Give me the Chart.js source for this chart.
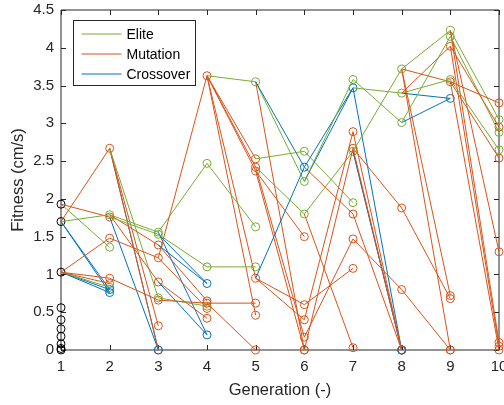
<!DOCTYPE html>
<html>
<head>
<meta charset="utf-8">
<script src="https://cdn.jsdelivr.net/npm/chart.js@4.4.1/dist/chart.umd.min.js"></script>
<style>
  body { margin: 0; background: #fff; }
  canvas { display: block; }
</style>
</head>
<body>
<canvas id="fitnessChart" width="504" height="405"></canvas>
<script>
// Fitness per generation; types: E = elite, M = mutation, C = crossover
// parents = index in the previous generation
const generations = [1, 2, 3, 4, 5, 6, 7, 8, 9, 10];

const fit1 = [1.93, 1.70, 1.03, 0.56, 0.40, 0.28, 0.18, 0.08, 0.02, 0.00];

const fit2 = [2.67, 1.79, 1.76, 1.48, 1.36, 0.95, 0.88, 0.83, 0.80, 0.76];
const type2 = ['M', 'E', 'M', 'M', 'E', 'M', 'M', 'E', 'C', 'C'];
const par2 = [[1], [1], [0], [2], [0], [2], [2], [2], [1, 2], [1, 2]];

const fit3 = [1.56, 1.53, 1.39, 1.22, 0.90, 0.69, 0.66, 0.32, 0.00, 0.00];
const type3 = ['E', 'E', 'M', 'M', 'M', 'E', 'M', 'M', 'M', 'C'];
const par3 = [[1], [2], [1], [3], [1], [0], [5], [0], [0], [0, 2]];

const fit4 = [3.63, 2.47, 1.10, 0.88, 0.65, 0.62, 0.58, 0.55, 0.42, 0.20];
const type4 = ['M', 'E', 'E', 'C', 'M', 'M', 'E', 'M', 'M', 'C'];
const par4 = [[3], [0], [1], [1, 2], [2], [6], [5], [3], [4], [0, 4]];

const fit5 = [3.55, 2.53, 2.42, 2.37, 1.63, 1.10, 0.95, 0.62, 0.46, 0.00];
const type5 = ['E', 'M', 'M', 'M', 'E', 'E', 'M', 'M', 'M', 'M'];
const par5 = [[0], [0], [0], [0], [1], [2], [0], [5], [0], [5]];

const fit6 = [2.63, 2.42, 2.23, 1.80, 1.50, 0.60, 0.40, 0.17, 0.00, 0.00];
const type6 = ['E', 'C', 'E', 'E', 'M', 'M', 'M', 'M', 'M', 'M'];
const par6 = [[1], [0, 6], [0], [2], [3], [6], [6], [2], [0], [3]];

const fit7 = [3.58, 3.47, 2.89, 2.67, 2.63, 1.95, 1.80, 1.47, 1.08, 0.03];
const type7 = ['E', 'C', 'M', 'M', 'E', 'E', 'M', 'M', 'M', 'M'];
const par7 = [[2], [1, 2], [6], [8], [3], [0], [1], [7], [5], [3]];

const fit8 = [3.72, 3.40, 3.01, 1.88, 0.80, 0.00, 0.00, 0.00, 0.00, 0.00];
const type8 = ['E', 'E', 'E', 'M', 'M', 'M', 'M', 'C', 'M', 'M'];
const par8 = [[4], [1], [0], [3], [7], [2], [3], [1, 4], [4], [6]];

const fit9 = [4.23, 4.15, 4.02, 3.58, 3.55, 3.33, 0.72, 0.68, 0.00, 0.00];
const type9 = ['E', 'E', 'M', 'E', 'M', 'C', 'M', 'M', 'M', 'M'];
const par9 = [[0], [2], [1], [1], [0], [1, 2], [0], [3], [0], [4]];

const fit10 = [3.27, 3.05, 2.95, 2.88, 2.65, 2.54, 1.30, 0.10, 0.05, 0.00];
const type10 = ['M', 'E', 'M', 'E', 'E', 'M', 'M', 'M', 'M', 'M'];
const par10 = [[4], [0], [2], [1], [3], [4], [0], [0], [2], [4]];

const yTicks = [0, 0.5, 1, 1.5, 2, 2.5, 3, 3.5, 4, 4.5];
const legendLabels = ['Elite', 'Mutation', 'Crossover'];

const fits = [fit1, fit2, fit3, fit4, fit5, fit6, fit7, fit8, fit9, fit10];
const types = [null, type2, type3, type4, type5, type6, type7, type8, type9, type10];
const parents = [null, par2, par3, par4, par5, par6, par7, par8, par9, par10];

const colors = { E: '#77AC30', M: '#D95319', C: '#0072BD' };
const axisColor = '#262626';
const family = 'Liberation Sans, Arial, sans-serif';
const tickFont = { family: family, size: 15 };
const titleFont = { family: family, size: 16.5 };

function marker(points, color) {
    return {
        type: 'scatter', data: points, showLine: false,
        pointStyle: 'circle', pointRadius: 4, pointHoverRadius: 4,
        borderColor: color, backgroundColor: 'rgba(0,0,0,0)', borderWidth: 1,
        clip: false
    };
}

let lineSets = [];
let markerPts = { C: [], E: [], M: [] };

for (let g = 1; g < generations.length; g++) {
    for (let i = 0; i < fits[g].length; i++) {
        let t = types[g][i];
        parents[g][i].forEach(p => {
            lineSets.push({
                type: 'line',
                data: [{ x: generations[g - 1], y: fits[g - 1][p] }, { x: generations[g], y: fits[g][i] }],
                borderColor: colors[t], borderWidth: 1, pointRadius: 0, fill: false,
                clip: false
            });
        });
        markerPts[t].push({ x: generations[g], y: fits[g][i] });
    }
}

// lines first, then circles (orange on top), initial population in black
let datasets = lineSets.concat([
    marker(markerPts.C, colors.C),
    marker(markerPts.E, colors.E),
    marker(markerPts.M, colors.M),
    marker(fit1.map(v => ({ x: generations[0], y: v })), '#000000')
]);

// frame with inward ticks (box on) under the data, legend on top
const framePlugin = {
    id: 'frame',
    beforeDatasetsDraw(chart) {
        const ctx = chart.ctx;
        const a = chart.chartArea;
        const xs = chart.scales.x, ys = chart.scales.y;
        ctx.save();
        ctx.strokeStyle = axisColor;
        ctx.lineWidth = 1;
        ctx.beginPath();
        ctx.rect(a.left, a.top, a.right - a.left, a.bottom - a.top);
        generations.forEach(g => {
            let px = Math.round(xs.getPixelForValue(g)) + 0.5;
            ctx.moveTo(px, a.bottom); ctx.lineTo(px, a.bottom - 5);
            ctx.moveTo(px, a.top); ctx.lineTo(px, a.top + 5);
        });
        yTicks.forEach(t => {
            let py = Math.round(ys.getPixelForValue(t)) + 0.5;
            ctx.moveTo(a.left, py); ctx.lineTo(a.left + 5, py);
            ctx.moveTo(a.right, py); ctx.lineTo(a.right - 5, py);
        });
        ctx.stroke();
        ctx.restore();
    },
    afterDraw(chart) {
        const ctx = chart.ctx;
        ctx.save();
        const lx = 73.5, ly = 20.5, lw = 122, lh = 65;
        ctx.fillStyle = '#ffffff';
        ctx.fillRect(lx, ly, lw, lh);
        ctx.strokeStyle = axisColor;
        ctx.lineWidth = 1;
        ctx.strokeRect(lx, ly, lw, lh);
        const keys = ['E', 'M', 'C'];
        ctx.font = '14px ' + family;
        ctx.textBaseline = 'middle';
        ctx.textAlign = 'left';
        legendLabels.forEach((label, k) => {
            let yy = Math.round(ly + 13 + k * 20);
            ctx.strokeStyle = colors[keys[k]];
            ctx.lineWidth = 1.2;
            ctx.beginPath();
            ctx.moveTo(lx + 8, yy); ctx.lineTo(lx + 48, yy);
            ctx.stroke();
            ctx.fillStyle = '#000000';
            ctx.fillText(label, lx + 53, yy + 1);
        });
        ctx.restore();
    }
};

new Chart(document.getElementById('fitnessChart'), {
    type: 'scatter',
    data: { datasets: datasets },
    options: {
        responsive: false,
        animation: false,
        devicePixelRatio: 1,
        layout: { padding: { left: 0, right: 5, top: 10, bottom: 0 } },
        plugins: { legend: { display: false }, tooltip: { enabled: false } },
        scales: {
            x: {
                type: 'linear', min: 1, max: 10,
                ticks: { stepSize: 1, font: tickFont, color: axisColor, padding: 8, maxRotation: 0, autoSkip: false },
                grid: { display: false, drawTicks: false },
                border: { display: false },
                title: { display: true, text: 'Generation (-)', font: titleFont, color: axisColor, padding: 5 },
                afterFit(s) { s.height = 55; s.paddingLeft = 0; s.paddingRight = 0; }
            },
            y: {
                type: 'linear', min: 0, max: 4.5,
                ticks: {
                    stepSize: 0.5, font: tickFont, color: axisColor, padding: 7, autoSkip: false,
                    callback: v => String(Number(v.toFixed(2)))
                },
                grid: { display: false, drawTicks: false },
                border: { display: false },
                title: { display: true, text: 'Fitness (cm/s)', font: titleFont, color: axisColor, padding: 9 },
                afterFit(s) { s.width = 61; s.paddingTop = 0; s.paddingBottom = 0; }
            }
        }
    },
    plugins: [framePlugin]
});
</script>
</body>
</html>
